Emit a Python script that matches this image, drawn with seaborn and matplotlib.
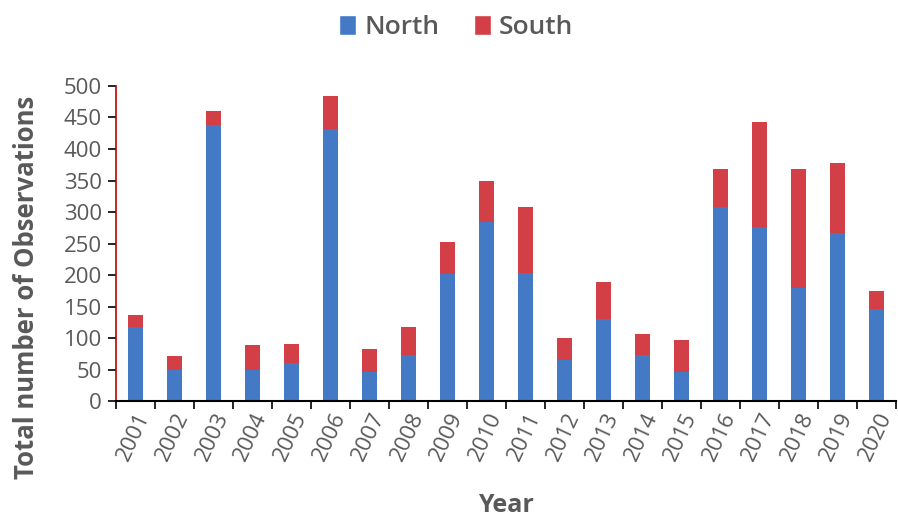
import numpy as np
import pandas as pd
import seaborn as sns
import matplotlib.pyplot as plt
from matplotlib.patches import Patch
from matplotlib.ticker import FixedLocator

# values
years = [str(y) for y in range(2001, 2021)]
north = [118, 50, 438, 50, 60, 432, 47, 73, 202, 284,
         203, 66, 131, 73, 46, 308, 276, 180, 266, 146]
south = [18, 22, 23, 39, 31, 52, 36, 45, 51, 65,
         105, 34, 58, 34, 51, 60, 167, 188, 112, 29]

BLUE = "#4479C6"
RED = "#D23F47"
GREY = "#595959"

df = pd.DataFrame({"Year": years, "North": north, "South": south})
df["Total"] = df["North"] + df["South"]

sns.set_style("white")
plt.rcParams["font.family"] = ["Open Sans", "DejaVu Sans"]

fig = plt.figure(figsize=(8.98, 5.21), dpi=100)
ax = fig.add_axes([0.129, 0.230, 0.869, 0.605])

# stacked: draw totals in red, north on top in blue
sns.barplot(data=df, x="Year", y="Total", color=RED, width=0.39,
            saturation=1, linewidth=0, ax=ax)
sns.barplot(data=df, x="Year", y="North", color=BLUE, width=0.39,
            saturation=1, linewidth=0, ax=ax)

ax.set_xlim(-0.5, len(years) - 0.5)
ax.set_ylim(0, 500)
ax.set_yticks(range(0, 501, 50))

# tick marks sit between categories
ax.xaxis.set_minor_locator(FixedLocator(np.arange(-0.5, len(years), 1)))
ax.tick_params(axis="x", which="major", length=0, pad=6)
ax.tick_params(axis="x", which="minor", length=6, width=1.2, color="black",
               direction="out", bottom=True)
ax.tick_params(axis="y", length=6, width=1.2, color="black", direction="out",
               left=True, pad=4)
plt.setp(ax.get_xticklabels(), rotation=65, ha="right", rotation_mode="anchor",
         fontsize=16, color=GREY)
plt.setp(ax.get_yticklabels(), fontsize=16, color=GREY)

for s in ["top", "right"]:
    ax.spines[s].set_visible(False)
ax.spines["left"].set_color("#C00000")
ax.spines["left"].set_linewidth(1.2)
ax.spines["bottom"].set_color("black")
ax.spines["bottom"].set_linewidth(1.5)

ax.set_xlabel("Year", fontsize=18, fontweight="bold", color=GREY)
ax.xaxis.set_label_coords(0.5, -0.292)
ax.set_ylabel("Total number of Observations", fontsize=18.5, fontweight="bold",
              color=GREY)
ax.yaxis.set_label_coords(-0.097, 0.36)

handles = [Patch(facecolor=BLUE, label="North"),
           Patch(facecolor=RED, label="South")]
fig.legend(handles=handles, loc="center", bbox_to_anchor=(0.508, 0.947),
           ncol=2, frameon=False, prop={"size": 19, "weight": "semibold"},
           labelcolor=GREY, handlelength=0.65, handleheight=0.8,
           handletextpad=0.3, columnspacing=1.3)

fig.savefig("out.png", dpi=100)
